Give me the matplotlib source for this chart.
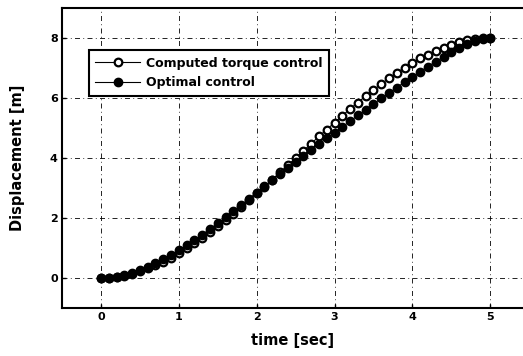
import numpy as np
import matplotlib
matplotlib.use('Agg')
from matplotlib import pyplot as plt

# time samples [sec]
t = [0.0, 0.1, 0.2, 0.3, 0.4, 0.5, 0.6, 0.7, 0.8, 0.9,
     1.0, 1.1, 1.2, 1.3, 1.4, 1.5, 1.6, 1.7, 1.8, 1.9,
     2.0, 2.1, 2.2, 2.3, 2.4, 2.5, 2.6, 2.7, 2.8, 2.9,
     3.0, 3.1, 3.2, 3.3, 3.4, 3.5, 3.6, 3.7, 3.8, 3.9,
     4.0, 4.1, 4.2, 4.3, 4.4, 4.5, 4.6, 4.7, 4.8, 4.9, 5.0]

# computed torque control displacement [m]
computed = [0.0, 0.01, 0.04, 0.08, 0.15, 0.22, 0.32, 0.43, 0.55, 0.68,
            0.83, 0.99, 1.16, 1.34, 1.53, 1.73, 1.93, 2.15, 2.36, 2.59,
            2.82, 3.05, 3.28, 3.52, 3.76, 4.00, 4.24, 4.48, 4.72, 4.95,
            5.18, 5.41, 5.64, 5.85, 6.07, 6.27, 6.47, 6.66, 6.84, 7.01,
            7.17, 7.32, 7.45, 7.57, 7.68, 7.78, 7.86, 7.92, 7.96, 7.99, 8.0]

# optimal control displacement [m]
optimal = [0.0, 0.015, 0.05, 0.105, 0.18, 0.27, 0.375, 0.49, 0.62, 0.77,
           0.93, 1.09, 1.26, 1.44, 1.63, 1.82, 2.02, 2.22, 2.43, 2.64,
           2.85, 3.06, 3.27, 3.48, 3.68, 3.88, 4.08, 4.28, 4.47, 4.66,
           4.85, 5.04, 5.23, 5.42, 5.61, 5.80, 5.99, 6.17, 6.35, 6.53,
           6.71, 6.88, 7.05, 7.21, 7.37, 7.52, 7.66, 7.79, 7.90, 7.97, 8.0]

fig = plt.figure(figsize=(5.23, 3.56), dpi=100)
ax = fig.add_axes([62/523, 48/356, 461/523, 300/356])

ax.plot(t, computed, '-o', color='black', lw=0.8, ms=5.5, mfc='white', mec='black', mew=1.6,
        label='Computed torque control')
ax.plot(t, optimal, '-o', color='black', lw=0.8, ms=6, mfc='black', mec='black',
        label='Optimal control')

ax.set_xlim(-0.5, 5.42)
ax.set_ylim(-1, 9)
ax.set_xticks([0, 1, 2, 3, 4, 5])
ax.set_yticks([0, 2, 4, 6, 8])
ax.grid(True, color='black', linestyle=(0, (6, 4, 1, 4)), linewidth=0.6)
ax.spines['right'].set_visible(False)
for s in ['left', 'bottom', 'top']:
    ax.spines[s].set_linewidth(1.5)
ax.tick_params(direction='in', length=3, width=1, labelsize=8, pad=3)
for lab in ax.get_xticklabels() + ax.get_yticklabels():
    lab.set_fontweight('bold')

ax.set_xlabel('time [sec]', fontsize=10.5, fontweight='bold', labelpad=8)
ax.set_ylabel('Displacement [m]', fontsize=10.5, fontweight='bold', labelpad=18)

leg = ax.legend(loc='upper left', bbox_to_anchor=(0.045, 0.88), frameon=True, fancybox=False,
                prop={'weight': 'bold', 'size': 9}, handlelength=3.6, handletextpad=0.5,
                borderpad=0.5, labelspacing=0.55, edgecolor='black', framealpha=1)
leg.get_frame().set_linewidth(1.5)

fig.savefig('out.png', dpi=100)
